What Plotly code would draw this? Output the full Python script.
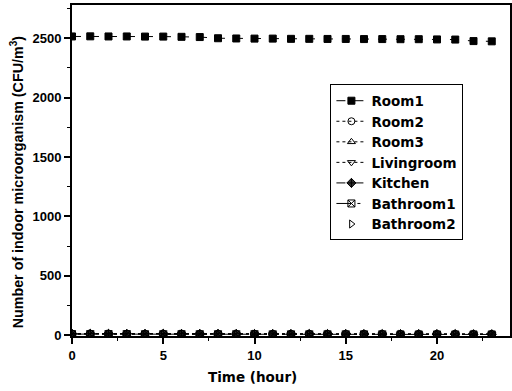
import plotly.graph_objects as go

# Hourly sampling time (hour)
hours = list(range(0, 24))

# Airborne microorganism counts (CFU/m^3) for each room
room1 = [2515, 2516, 2515, 2515, 2514, 2514, 2512, 2510, 2500, 2498, 2497, 2497,
         2495, 2495, 2494, 2494, 2493, 2493, 2492, 2492, 2490, 2489, 2476, 2474]
room2 = [12, 12, 11, 12, 11, 11, 12, 11, 11, 10, 11, 10,
         10, 11, 10, 10, 10, 9, 10, 9, 9, 9, 8, 8]
room3 = [10, 10, 10, 9, 10, 9, 9, 10, 9, 9, 9, 8,
         9, 8, 8, 9, 8, 8, 8, 8, 7, 7, 7, 7]
livingroom = [9, 9, 8, 9, 8, 8, 8, 8, 8, 8, 7, 8,
              7, 7, 7, 7, 7, 7, 6, 6, 6, 6, 6, 6]
kitchen = [11, 11, 11, 10, 10, 11, 10, 10, 10, 10, 9, 9,
           9, 9, 9, 9, 8, 8, 8, 8, 8, 8, 7, 7]
bathroom1 = [8, 8, 8, 8, 7, 7, 7, 7, 7, 7, 7, 6,
             6, 6, 6, 6, 6, 6, 5, 5, 5, 5, 5, 5]
bathroom2 = [7, 7, 7, 6, 6, 6, 6, 6, 6, 6, 6, 5,
             5, 5, 5, 5, 5, 5, 5, 4, 4, 4, 4, 4]

series = [
    ("Room1", room1, "dash", "square", "black"),
    ("Room2", room2, "dot", "circle-open", "black"),
    ("Room3", room3, "dot", "triangle-up-open", "black"),
    ("Livingroom", livingroom, "dot", "triangle-down-open", "black"),
    ("Kitchen", kitchen, "dashdot", "diamond-cross", "#333333"),
    ("Bathroom1", bathroom1, "longdashdot", "square-x-open", "black"),
    ("Bathroom2", bathroom2, None, "triangle-right-open", "black"),
]

FONT = "Arial, Liberation Sans, sans-serif"
WIDE = "DejaVu Sans, Arial, sans-serif"

fig = go.Figure()
for name, vals, dash, sym, col in series:
    mode = "lines+markers" if dash else "markers"
    fig.add_trace(go.Scatter(
        x=hours, y=vals, name=name, mode=mode,
        line=dict(color="black", width=1, dash=dash) if dash else None,
        marker=dict(symbol=sym, size=7, color=col,
                    line=dict(color="black", width=1)),
        cliponaxis=True,
    ))

axis_common = dict(
    showline=True, linecolor="black", linewidth=2, mirror=True,
    showgrid=False, zeroline=False,
    ticks="outside", tickcolor="black", tickwidth=1.5, ticklen=6,
    tickfont=dict(family=FONT, size=13, color="black", weight="bold"),
)

fig.update_xaxes(
    range=[0, 24], tick0=0, dtick=5,
    minor=dict(ticks="outside", dtick=2.5, ticklen=3, tickcolor="black", tickwidth=1),
    **axis_common,
)
fig.update_yaxes(
    range=[-8, 2780], tick0=0, dtick=500,
    minor=dict(ticks="outside", dtick=250, ticklen=3, tickcolor="black", tickwidth=1),
    **axis_common,
)

fig.add_annotation(
    text="Time (hour)", xref="paper", yref="paper",
    x=0.411, y=-0.125, xanchor="center", yanchor="middle", showarrow=False,
    font=dict(family=WIDE, size=13.5, color="black", weight="bold"),
)
fig.add_annotation(
    text="Number of indoor microorganism (CFU/m<sup>3</sup>)",
    xref="paper", yref="paper", x=-0.125, y=0.465, xanchor="center", yanchor="middle",
    textangle=-90, showarrow=False,
    font=dict(family=FONT, size=14.3, color="black", weight="bold"),
)

fig.update_layout(
    width=512, height=391,
    margin=dict(l=72, r=0, t=5, b=55),
    paper_bgcolor="white", plot_bgcolor="white",
    showlegend=True,
    legend=dict(
        x=0.59, y=0.76, xanchor="left", yanchor="top",
        bgcolor="white", bordercolor="black", borderwidth=1,
        font=dict(family=WIDE, size=13.5, color="black", weight="bold"),
        itemwidth=30,
    ),
)

fig.write_html("out.html")
